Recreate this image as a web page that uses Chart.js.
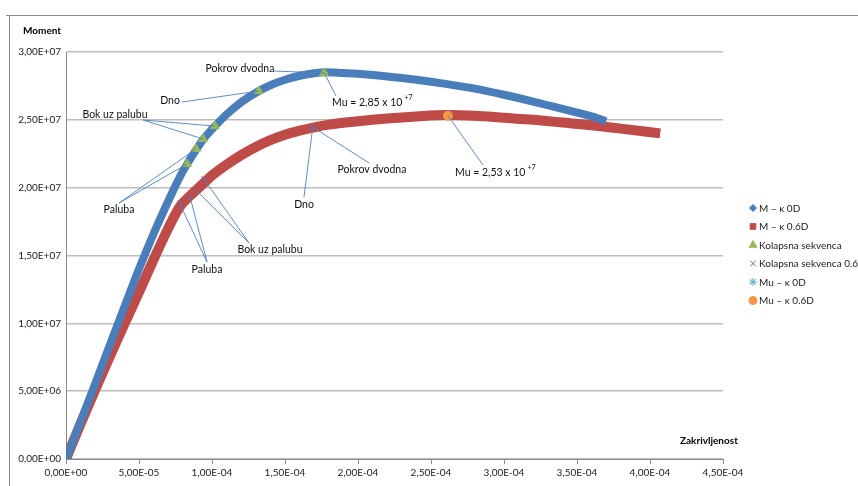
<!DOCTYPE html>
<html>
<head>
<meta charset="utf-8">
<script src="https://cdn.jsdelivr.net/npm/chart.js@4/dist/chart.umd.min.js"></script>
<style>
  html, body { margin: 0; padding: 0; background: #fff; }
  #wrap { position: relative; width: 858px; height: 486px; }
</style>
</head>
<body>
<div id="wrap"><canvas id="c" width="858" height="486"></canvas></div>
<script>
// --- data ---
var kappa0D  = [0, 1e-5, 2e-5, 3e-5, 4e-5, 5e-5, 6e-5, 7e-5, 7.8e-5, 8.5e-5, 9e-5, 9.5e-5, 1e-4, 1.1e-4, 1.2e-4, 1.3e-4, 1.4e-4, 1.5e-4, 1.6e-4, 1.7e-4, 1.77e-4, 1.9e-4, 2e-4, 2.2e-4, 2.4e-4, 2.6e-4, 2.8e-4, 3e-4, 3.2e-4, 3.4e-4, 3.6e-4, 3.7e-4];
var moment0D = [0, 2.75e6, 5.55e6, 8.4e6, 1.12e7, 1.4e7, 1.66e7, 1.9e7, 2.08e7, 2.21e7, 2.295e7, 2.37e7, 2.43e7, 2.54e7, 2.63e7, 2.70e7, 2.755e7, 2.795e7, 2.825e7, 2.843e7, 2.85e7, 2.845e7, 2.84e7, 2.82e7, 2.795e7, 2.765e7, 2.73e7, 2.685e7, 2.635e7, 2.58e7, 2.525e7, 2.49e7];

var kappa06D  = [0, 1e-5, 2e-5, 3e-5, 4e-5, 5e-5, 6e-5, 7e-5, 7.8e-5, 8.5e-5, 9e-5, 9.5e-5, 1e-4, 1.1e-4, 1.2e-4, 1.3e-4, 1.4e-4, 1.5e-4, 1.6e-4, 1.7e-4, 1.8e-4, 2e-4, 2.2e-4, 2.4e-4, 2.6e-4, 2.8e-4, 3e-4, 3.2e-4, 3.4e-4, 3.6e-4, 3.8e-4, 4.07e-4];
var moment06D = [0, 2.6e6, 5.1e6, 7.55e6, 9.95e6, 1.23e7, 1.47e7, 1.7e7, 1.86e7, 1.94e7, 1.99e7, 2.04e7, 2.09e7, 2.17e7, 2.24e7, 2.30e7, 2.35e7, 2.39e7, 2.42e7, 2.445e7, 2.465e7, 2.49e7, 2.51e7, 2.525e7, 2.535e7, 2.53e7, 2.515e7, 2.50e7, 2.48e7, 2.46e7, 2.435e7, 2.40e7];

// collapse sequence points
var collapseKappa0D   = [8.29e-5, 8.9e-5, 9.38e-5, 1.02e-4, 1.32e-4, 1.767e-4];
var collapseMoment0D  = [2.174e7, 2.285e7, 2.359e7, 2.454e7, 2.712e7, 2.845e7];
var collapseKappa06D  = [7.8e-5, 8.5e-5, 8.97e-5, 9.45e-5, 1.69e-4, 1.69e-4];
var collapseMoment06D = [1.88e7, 1.93e7, 1.975e7, 2.064e7, 2.447e7, 2.447e7];
var collapseNames     = ['Paluba', 'Paluba', 'Bok uz palubu', 'Bok uz palubu', 'Dno', 'Pokrov dvodna'];

// ultimate moments
var muKappa  = [1.767e-4, 2.616e-4];
var muMoment = [2.85e7, 2.53e7];
var muText   = ['Mu = 2,85 x 10', 'Mu = 2,53 x 10'];

var seriesNames = ['M \u2013 \u03ba 0D', 'M \u2013 \u03ba 0.6D', 'Kolapsna sekvenca', 'Kolapsna sekvenca 0.6', 'Mu \u2013 \u03ba 0D', 'Mu \u2013 \u03ba 0.6D'];

var xTickValues = [0, 5e-5, 1e-4, 1.5e-4, 2e-4, 2.5e-4, 3e-4, 3.5e-4, 4e-4, 4.5e-4];
var xTickLabels = ['0,00E+00', '5,00E-05', '1,00E-04', '1,50E-04', '2,00E-04', '2,50E-04', '3,00E-04', '3,50E-04', '4,00E-04', '4,50E-04'];
var yTickValues = [0, 5e6, 1e7, 1.5e7, 2e7, 2.5e7, 3e7];
var yTickLabels = ['0,00E+00', '5,00E+06', '1,00E+07', '1,50E+07', '2,00E+07', '2,50E+07', '3,00E+07'];

function pts(xs, ys) {
    return xs.map(function (x, i) { return { x: x, y: ys[i] }; });
}

var FONT = 'Lato, "Open Sans", sans-serif';
var LEADER = 'rgba(79,129,189,0.9)';

// callout label placement (canvas px); each line ends on a data point
var callouts = [
    { ds: 2, idx: [0, 1], text: collapseNames[0], tx: 119, ty: 210, lx: 119, ly: 203 },
    { ds: 2, idx: [2, 3], text: collapseNames[2], tx: 115, ty: 115, lx: 143, ly: 120 },
    { ds: 2, idx: [4],    text: collapseNames[4], tx: 170, ty: 101, lx: 182, ly: 102 },
    { ds: 2, idx: [5],    text: collapseNames[5], tx: 240, ty: 69,  lx: 274, ly: 71 },
    { ds: 3, idx: [0, 1], text: collapseNames[0], tx: 207, ty: 270, lx: 207, ly: 262 },
    { ds: 3, idx: [2, 3], text: collapseNames[2], tx: 270, ty: 250, lx: 249, ly: 243 },
    { ds: 3, idx: [4],    text: collapseNames[4], tx: 304, ty: 205, lx: 304, ly: 197 },
    { ds: 3, idx: [5],    text: collapseNames[5], tx: 372, ty: 170, lx: 369, ly: 163 }
];
var muCallouts = [
    { idx: 0, tx: 332, ty: 103, lx: 336, ly: 96 },
    { idx: 1, tx: 455, ty: 173, lx: 483, ly: 165 }
];

var framePlugin = {
    id: 'frame',
    beforeDraw: function (chart) {
        var ctx = chart.ctx;
        ctx.save();
        ctx.fillStyle = '#fff';
        ctx.fillRect(0, 0, chart.width, chart.height);
        ctx.strokeStyle = '#8a8a8a';
        ctx.lineWidth = 1;
        ctx.beginPath();
        ctx.moveTo(6, 15.5); ctx.lineTo(858, 15.5);
        ctx.moveTo(9.5, 15); ctx.lineTo(9.5, 486);
        ctx.stroke();
        // axis titles
        ctx.fillStyle = '#000';
        ctx.font = 'bold 10px ' + FONT;
        ctx.textBaseline = 'middle';
        ctx.textAlign = 'left';
        ctx.fillText('Moment', 23, 31);
        ctx.fillText('Zakrivljenost', 680, 441);
        ctx.restore();
    }
};

var calloutPlugin = {
    id: 'callouts',
    afterDatasetsDraw: function (chart) {
        var ctx = chart.ctx;
        var xs = chart.scales.x, ys = chart.scales.y;
        ctx.save();
        ctx.strokeStyle = LEADER;
        ctx.lineWidth = 1;
        callouts.forEach(function (c) {
            var d = chart.data.datasets[c.ds].data;
            c.idx.forEach(function (i) {
                ctx.beginPath();
                ctx.moveTo(c.lx, c.ly);
                ctx.lineTo(xs.getPixelForValue(d[i].x), ys.getPixelForValue(d[i].y));
                ctx.stroke();
            });
        });
        muCallouts.forEach(function (c) {
            ctx.beginPath();
            ctx.moveTo(c.lx, c.ly);
            ctx.lineTo(xs.getPixelForValue(muKappa[c.idx]), ys.getPixelForValue(muMoment[c.idx]));
            ctx.stroke();
        });
        ctx.fillStyle = '#111';
        ctx.textBaseline = 'middle';
        ctx.font = '10.5px ' + FONT;
        ctx.textAlign = 'center';
        callouts.forEach(function (c) { ctx.fillText(c.text, c.tx, c.ty); });
        ctx.textAlign = 'left';
        muCallouts.forEach(function (c) {
            ctx.font = '10.5px ' + FONT;
            var t = muText[c.idx];
            ctx.fillText(t, c.tx, c.ty);
            var w = ctx.measureText(t).width;
            ctx.font = '7px ' + FONT;
            ctx.fillText('+7', c.tx + w + 2, c.ty - 5);
        });
        ctx.restore();
    }
};

// drawPoint takes its colours from ctx
function legendMarker(ctx, style, x, y) {
    ctx.fillStyle = style.fill;
    ctx.strokeStyle = style.stroke;
    ctx.lineWidth = style.bw;
    Chart.helpers.drawPoint(ctx, { pointStyle: style.shape, radius: style.r, rotation: 0, borderWidth: style.bw }, x, y);
}

var legendPlugin = {
    id: 'sideLegend',
    afterDraw: function (chart) {
        var ctx = chart.ctx;
        var x0 = 753, y0 = 208, step = 18.5;
        ctx.save();
        chart.data.datasets.forEach(function (ds, i) {
            var y = y0 + i * step;
            legendMarker(ctx, ds.legendStyle, x0, y);
            ctx.font = '10px ' + FONT;
            ctx.textBaseline = 'middle';
            ctx.textAlign = 'left';
            ctx.fillStyle = '#222';
            ctx.fillText(seriesNames[i], x0 + 6, y + 0.5);
        });
        ctx.restore();
    }
};

var chart = new Chart(document.getElementById('c'), {
    type: 'scatter',
    data: {
        datasets: [
            {
                label: seriesNames[0], data: pts(kappa0D, moment0D), order: 4,
                showLine: true, borderColor: '#4a7ebb', borderWidth: 8, borderCapStyle: 'butt',
                cubicInterpolationMode: 'monotone', pointRadius: 0,
                legendStyle: { shape: 'rectRot', r: 3.5, fill: '#4a7ebb', stroke: '#4a7ebb', bw: 1 }
            },
            {
                label: seriesNames[1], data: pts(kappa06D, moment06D), order: 5,
                showLine: true, borderColor: '#be4b48', borderWidth: 10, borderCapStyle: 'butt',
                cubicInterpolationMode: 'monotone', pointRadius: 0,
                legendStyle: { shape: 'rect', r: 4, fill: '#be4b48', stroke: '#be4b48', bw: 1 }
            },
            {
                label: seriesNames[2], data: pts(collapseKappa0D, collapseMoment0D), order: 0,
                pointStyle: 'triangle', pointRadius: 5, backgroundColor: '#98b954', borderColor: '#98b954', borderWidth: 1,
                legendStyle: { shape: 'triangle', r: 4.5, fill: '#98b954', stroke: '#98b954', bw: 1 }
            },
            {
                label: seriesNames[3], data: pts(collapseKappa06D, collapseMoment06D), order: 1,
                pointStyle: 'crossRot', pointRadius: 4, borderColor: '#7d60a0', borderWidth: 1,
                legendStyle: { shape: 'crossRot', r: 4, fill: '#7d60a0', stroke: '#7d60a0', bw: 1 }
            },
            {
                label: seriesNames[4], data: pts([muKappa[0]], [muMoment[0]]), order: 3,
                pointStyle: 'star', pointRadius: 4, borderColor: '#4bacc6', borderWidth: 1,
                legendStyle: { shape: 'star', r: 4, fill: '#4bacc6', stroke: '#4bacc6', bw: 1 }
            },
            {
                label: seriesNames[5], data: pts([muKappa[1]], [muMoment[1]]), order: 2,
                pointStyle: 'circle', pointRadius: 4.5, backgroundColor: '#f79646', borderColor: '#f79646', borderWidth: 1,
                legendStyle: { shape: 'circle', r: 4, fill: '#f79646', stroke: '#f79646', bw: 1 }
            }
        ]
    },
    options: {
        responsive: false,
        animation: false,
        events: [],
        layout: { padding: { left: 0, top: 52, right: 135, bottom: 0 } },
        plugins: { legend: { display: false }, tooltip: { enabled: false } },
        scales: {
            x: {
                type: 'linear', min: 0, max: 4.5e-4,
                afterBuildTicks: function (s) { s.ticks = xTickValues.map(function (v) { return { value: v }; }); },
                afterFit: function (s) { s.height = 27; },
                ticks: {
                    autoSkip: false, maxRotation: 0, padding: 3, color: '#222',
                    font: { family: FONT, size: 10 },
                    callback: function (v, i) { return xTickLabels[i]; }
                },
                grid: { drawOnChartArea: false, drawTicks: true, tickLength: 5, color: '#8a8a8a' },
                border: { color: '#8a8a8a', width: 1 }
            },
            y: {
                type: 'linear', min: 0, max: 3e7,
                afterBuildTicks: function (s) { s.ticks = yTickValues.map(function (v) { return { value: v }; }); },
                afterFit: function (s) { s.width = 66; },
                ticks: {
                    autoSkip: false, padding: 5, color: '#222',
                    font: { family: FONT, size: 10 },
                    callback: function (v, i) { return yTickLabels[i]; }
                },
                grid: { drawTicks: false, color: '#bdbdbd', lineWidth: 1.5 },
                border: { color: '#8a8a8a', width: 1 }
            }
        }
    },
    plugins: [framePlugin, calloutPlugin, legendPlugin]
});
</script>
</body>
</html>
